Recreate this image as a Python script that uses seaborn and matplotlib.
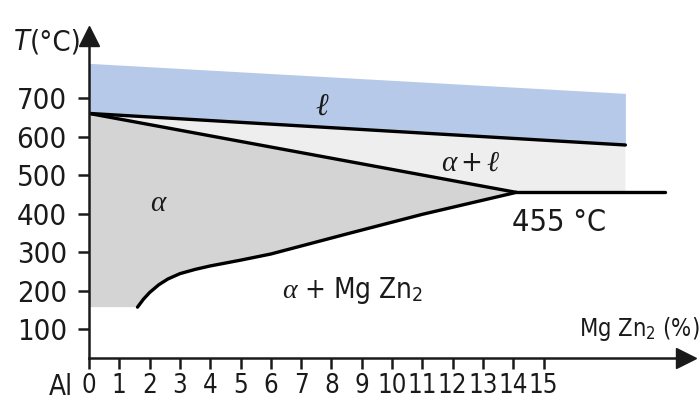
import matplotlib
matplotlib.use("Agg")
import matplotlib.pyplot as plt
import seaborn as sns
import pandas as pd

# Al - MgZn2 phase diagram (x: % MgZn2, T: degC)
liquid_top_x = [0, 17.7]
liquid_top_T = [790, 712]
liquidus_x = [0, 17.7]
liquidus_T = [660, 578]
solidus_x = [0, 14.1]
solidus_T = [660, 455]
eutectic_x = [14.1, 19.0]
eutectic_T = [455, 455]
solvus_x = [1.6, 1.8, 2.0, 2.3, 2.6, 3.0, 3.5, 4.0, 5.0, 6.0, 8.6, 11.0, 14.1]
solvus_T = [157, 178, 195, 215, 230, 244, 255, 264, 279, 295, 349, 398, 455]
alpha_floor_T = 157

x_ticks = list(range(0, 16))
y_ticks = [100, 200, 300, 400, 500, 600, 700]

sns.set_theme(style="white")
plt.rcParams['font.family'] = ['DejaVu Sans']
plt.rcParams['font.stretch'] = 'condensed'
plt.rcParams['mathtext.fontset'] = 'custom'
plt.rcParams['mathtext.rm'] = 'DejaVu Sans:stretch=condensed'
plt.rcParams['mathtext.it'] = 'Liberation Serif:italic'
plt.rcParams['mathtext.fallback'] = 'cm'
ink = '#1a1a1a'

fig = plt.figure(figsize=(7, 4.03), dpi=100)
ax = fig.add_axes([89 / 700, 1 - 358 / 403, (686 - 89) / 700, (358 - 36) / 403])

# regions
ax.fill_between(liquid_top_x, liquidus_T, liquid_top_T, color='#b6c9e8', lw=0)
light_x = [liquidus_x[0], liquidus_x[1], liquidus_x[1], eutectic_x[0]]
light_T = [liquidus_T[0], liquidus_T[1], eutectic_T[0], eutectic_T[0]]
ax.fill(light_x, light_T, color='#eeeeee', lw=0)
grey_x = solidus_x + solvus_x[::-1][1:] + [0]
grey_T = solidus_T + solvus_T[::-1][1:] + [alpha_floor_T]
ax.fill(grey_x, grey_T, color='#d4d4d4', lw=0)

# phase boundaries
lines = pd.DataFrame({
    'x': liquidus_x + solidus_x + eutectic_x + solvus_x,
    'T': liquidus_T + solidus_T + eutectic_T + solvus_T,
    'line': ['liq'] * 2 + ['sol'] * 2 + ['eut'] * 2 + ['solvus'] * len(solvus_x),
})
sns.lineplot(data=lines, x='x', y='T', units='line', estimator=None, sort=False,
             color='black', linewidth=2.4, legend=False, ax=ax)

ax.set_xlim(0, 19.7)
ax.set_ylim(25, 861)
ax.set_xticks(x_ticks)
ax.set_yticks(y_ticks)
ax.set_xticklabels([str(v) for v in x_ticks], fontsize=18.5)
ax.set_yticklabels([str(v) for v in y_ticks], fontsize=21)
ax.set_xlabel('')
ax.set_ylabel('')
for s in ['top', 'right']:
    ax.spines[s].set_visible(False)
for s in ['left', 'bottom']:
    ax.spines[s].set_color(ink)
    ax.spines[s].set_linewidth(1.8)
ax.tick_params(axis='both', which='major', length=8, width=1.8, color=ink,
               labelcolor=ink, bottom=True, left=True, direction='out')
ax.tick_params(axis='x', pad=3)
ax.tick_params(axis='y', pad=8)

# axis arrows
ax.plot(0, 1, marker='^', color=ink, ms=14, transform=ax.transAxes, clip_on=False)
ax.plot(1, 0, marker='>', color=ink, ms=14, transform=ax.transAxes, clip_on=False)

# labels
ax.text(7.7, 680, r'$\ell$', fontsize=22, ha='center', va='center', color=ink)
ax.text(12.6, 531, r'$\alpha+\ell$', fontsize=21, ha='center', va='center', color=ink)
ax.text(2.3, 427, r'$\alpha$', fontsize=21, ha='center', va='center', color=ink)
ax.text(15.5, 376, '455 °C', fontsize=22, ha='center', va='center', color=ink)
ax.text(8.7, 201, r'$\alpha$ + Mg Zn$_2$', fontsize=20, ha='center', va='center', color=ink)
ax.text(18.15, 100, r'Mg Zn$_2$ (%)', fontsize=17, ha='center', va='center', color=ink,
        clip_on=False)

fig.text(14 / 700, 1 - 42 / 403, 'T', fontsize=21, style='italic', ha='left', va='center',
         color=ink)
fig.text(30 / 700, 1 - 42 / 403, '(°C)', fontsize=21, ha='left', va='center', color=ink)
fig.text(61 / 700, 1 - 387 / 403, 'Al', fontsize=20, ha='center', va='center', color=ink)

fig.savefig('out.png', dpi=100)
